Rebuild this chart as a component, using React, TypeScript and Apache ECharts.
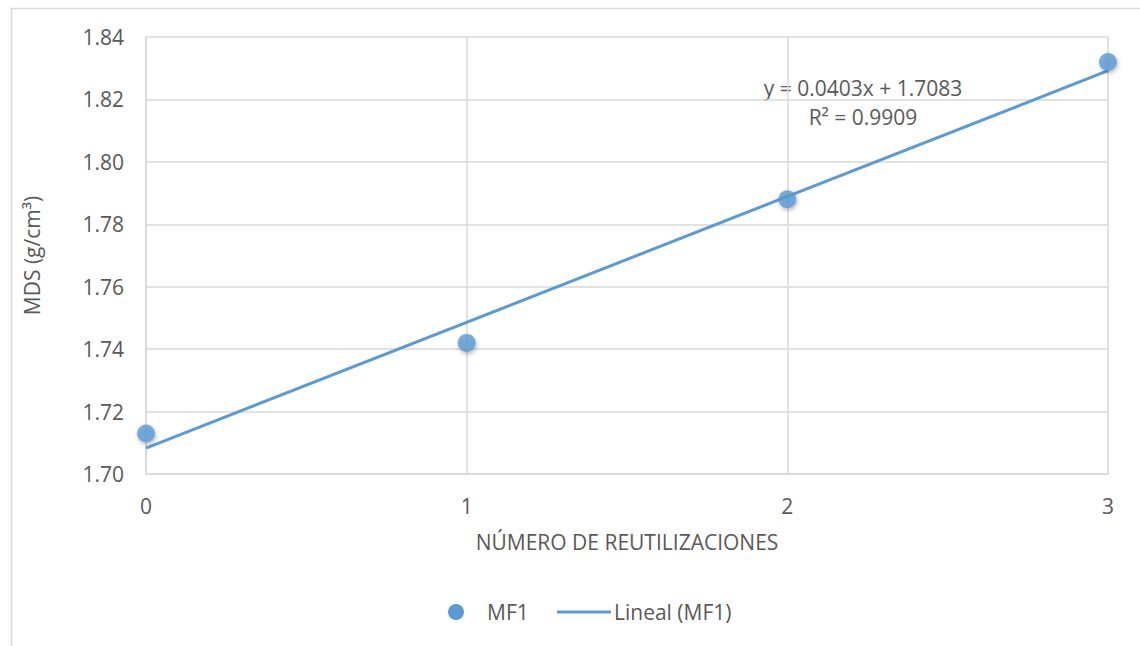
import React, { useEffect, useRef } from "react";
import * as echarts from "echarts";

const reuses = [0, 1, 2, 3];
const mdsValues = [1.713, 1.742, 1.788, 1.832];
const trendSlope = 0.0403;
const trendIntercept = 1.7083;
const yTicks = { min: 1.7, max: 1.84, step: 0.02 };
const xTicks = { min: 0, max: 3, step: 1 };
const equationText = "y = 0.0403x + 1.7083";
const r2Text = "R² = 0.9909";
const seriesName = "MF1";
const trendName = "Lineal (MF1)";
const xTitle = "NÚMERO DE REUTILIZACIONES";
const yTitle = "MDS (g/cm³)";

const BLUE = "#5B9BD5";
const TXT = "#595959";
const GRID = "#d9d9d9";
const FONT = "'Open Sans', 'Liberation Sans', sans-serif";
const FS = 21;

export default function App() {
  const ref = useRef<HTMLDivElement>(null);
  useEffect(() => {
    if (!ref.current) return;
    const chart = echarts.init(ref.current, undefined, { renderer: "svg" });
    const trendData = [xTicks.min, xTicks.max].map((x) => [x, trendIntercept + trendSlope * x]);
    chart.setOption({
      animation: false,
      backgroundColor: "#ffffff",
      textStyle: { fontFamily: FONT },
      grid: { left: 146, top: 37, width: 962, height: 437, containLabel: false },
      xAxis: {
        type: "value",
        min: xTicks.min,
        max: xTicks.max,
        interval: xTicks.step,
        name: xTitle,
        nameLocation: "middle",
        nameGap: 57,
        nameTextStyle: { color: TXT, fontSize: FS, fontFamily: FONT },
        axisLine: { show: true, lineStyle: { color: GRID, width: 1.5 } },
        axisTick: { show: false },
        splitLine: { show: true, lineStyle: { color: GRID, width: 1.5 } },
        axisLabel: { color: TXT, fontSize: FS, fontFamily: FONT, margin: 21 },
      },
      yAxis: {
        type: "value",
        min: yTicks.min,
        max: yTicks.max,
        interval: yTicks.step,
        name: yTitle,
        nameLocation: "middle",
        nameGap: 104,
        nameRotate: 90,
        nameTextStyle: { color: TXT, fontSize: FS, fontFamily: FONT },
        axisLine: { show: true, lineStyle: { color: GRID, width: 1.5 } },
        axisTick: { show: false },
        splitLine: { show: true, lineStyle: { color: GRID, width: 1.5 } },
        axisLabel: {
          color: TXT,
          fontSize: FS,
          fontFamily: FONT,
          margin: 22,
          formatter: (v: number) => v.toFixed(2),
        },
      },
      series: [
        {
          name: trendName,
          type: "line",
          data: trendData,
          symbol: "none",
          lineStyle: { color: BLUE, width: 3 },
          itemStyle: { color: BLUE },
          z: 2,
        },
        {
          name: seriesName,
          type: "scatter",
          data: reuses.map((x, i) => [x, mdsValues[i]]),
          symbolSize: 18,
          clip: false,
          itemStyle: {
            color: BLUE,
            shadowBlur: 4,
            shadowColor: "rgba(0,0,0,0.35)",
            shadowOffsetX: 1,
            shadowOffsetY: 2,
          },
          z: 3,
        },
      ],
      graphic: [
        {
          type: "rect",
          shape: { x: 11.5, y: 8.5, width: 1200, height: 700 },
          style: { fill: "none", stroke: GRID, lineWidth: 1.5 },
          silent: true,
          z: -1,
        },
        {
          type: "text",
          x: 863,
          y: 88,
          style: {
            text: equationText,
            fill: TXT,
            font: `${FS}px ${FONT}`,
            textAlign: "center",
            textVerticalAlign: "middle",
          },
        },
        {
          type: "text",
          x: 863,
          y: 117,
          style: {
            text: r2Text,
            fill: TXT,
            font: `${FS}px ${FONT}`,
            textAlign: "center",
            textVerticalAlign: "middle",
          },
        },
        {
          type: "circle",
          shape: { cx: 456, cy: 612, r: 8 },
          style: { fill: BLUE },
        },
        {
          type: "text",
          x: 487,
          y: 612,
          style: {
            text: seriesName,
            fill: TXT,
            font: `${FS}px ${FONT}`,
            textAlign: "left",
            textVerticalAlign: "middle",
          },
        },
        {
          type: "line",
          shape: { x1: 557, y1: 612, x2: 611, y2: 612 },
          style: { stroke: BLUE, lineWidth: 3 },
        },
        {
          type: "text",
          x: 614,
          y: 612,
          style: {
            text: trendName,
            fill: TXT,
            font: `${FS}px ${FONT}`,
            textAlign: "left",
            textVerticalAlign: "middle",
          },
        },
      ],
    });
    return () => chart.dispose();
  }, []);
  return (
    <div
      ref={ref}
      style={{ position: "fixed", left: 0, top: 0, width: 1140, height: 646 }}
    />
  );
}
